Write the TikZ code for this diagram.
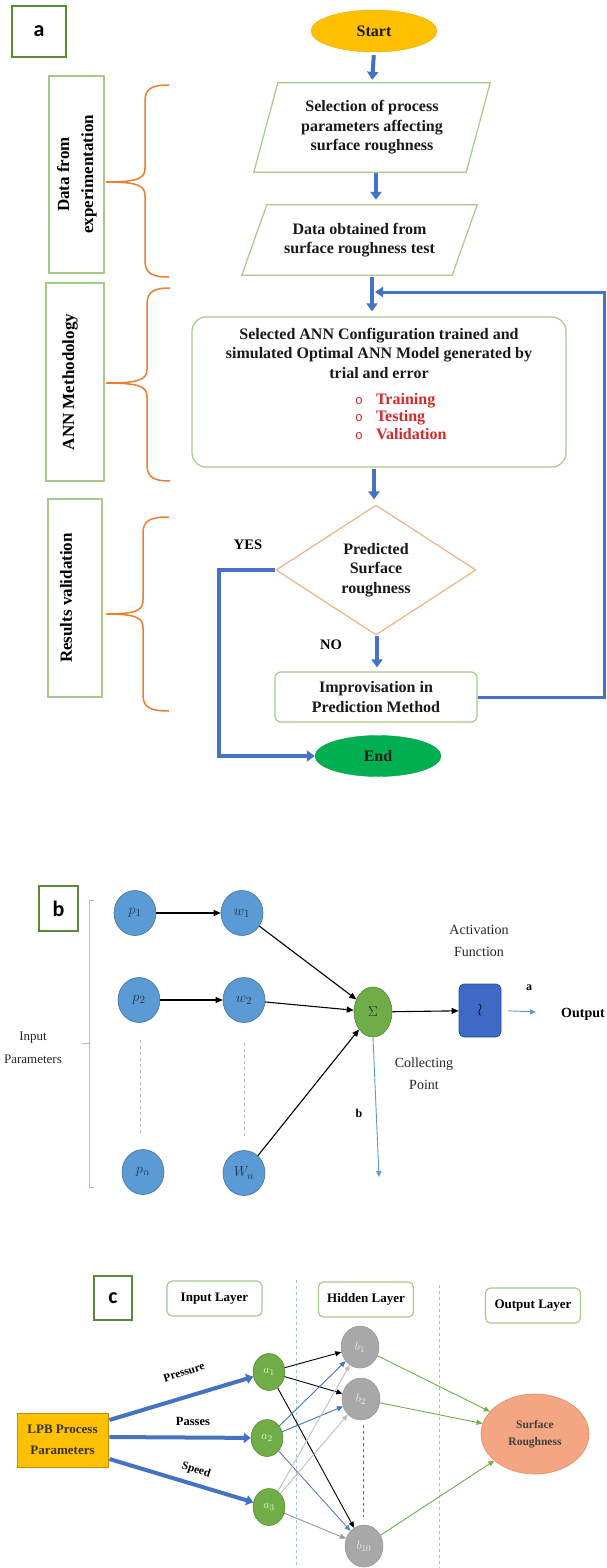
\documentclass[tikz,border=0pt]{standalone}
\usepackage{fontspec}
\setmainfont{Liberation Serif}
\newfontfamily\carl{Carlito}
\newfontfamily\monof{Liberation Mono}
\usetikzlibrary{shapes.geometric,arrows.meta,calc}
\definecolor{fblue}{HTML}{4472C4}
\definecolor{lgreen}{HTML}{A9C98B}
\definecolor{boxgreen}{HTML}{70AD47}
\definecolor{braceor}{HTML}{ED7D31}
\definecolor{diaor}{HTML}{F4B183}
\definecolor{startyel}{HTML}{FFC000}
\definecolor{endgreen}{HTML}{00B050}
\definecolor{redtxt}{HTML}{D42A2A}
\definecolor{cblue}{HTML}{5B9BD5}
\definecolor{cbluedark}{HTML}{41719C}
\definecolor{sgreen}{HTML}{70AD47}
\definecolor{sgreendark}{HTML}{548235}
\definecolor{actblue}{HTML}{3F69C6}
\definecolor{navytxt}{HTML}{26334D}
\definecolor{lblue}{HTML}{5B9BD5}
\definecolor{pblue}{HTML}{9DC3E6}
\definecolor{bgray}{HTML}{A8A8A8}
\definecolor{salmon}{HTML}{F4A582}
\definecolor{salmondark}{HTML}{E08A6A}
\definecolor{lpbborder}{HTML}{BF9000}
\definecolor{steel}{HTML}{5A7FBF}
\definecolor{lgray}{HTML}{C0C0C0}
\definecolor{mgray}{HTML}{9A9A9A}
\newcommand{\obrace}[5]{%
  \draw[bracestyle] (#1,#3) .. controls ({#2+8},#3) and (#2,{#3+3}) .. (#2,{#3+16})
    -- (#2,{#5-14}) .. controls (#2,{#5-4}) and ({#2-6},#5) .. (106,#5)
    .. controls ({#2-6},#5) and (#2,{#5+4}) .. (#2,{#5+14})
    -- (#2,{#4-16}) .. controls (#2,{#4-3}) and ({#2+8},#4) .. (#1,#4);}
\begin{document}
\begin{tikzpicture}[x=1pt,y=-1pt,
  flowarrow/.style={draw=fblue, line width=4pt, -{Triangle[width=11pt,length=8pt]}},
  labelbox/.style={draw=boxgreen!80!black, line width=1.6pt, fill=white, inner sep=0pt,
    font=\carl\bfseries\fontsize{22}{22}\selectfont},
  sidebox/.style={draw=lgreen, line width=1.2pt, inner sep=0pt},
  sidetext/.style={rotate=90, align=center, font=\bfseries\fontsize{17}{24}\selectfont},
  bracestyle/.style={draw=braceor, line width=1.5pt},
  ftext/.style={font=\bfseries\fontsize{16}{19.5}\selectfont, align=center, text=black!90},
  bcirc/.style={ellipse, fill=cblue, draw=cbluedark, line width=0.6pt, minimum width=42pt, minimum height=45pt, inner sep=0pt, text=navytxt, font=\fontsize{15}{15}\selectfont},
  barrow/.style={draw=black, line width=1.1pt, -{Triangle[width=6pt,length=7pt]}},
  rtext/.style={font=\fontsize{14}{22}\selectfont, align=center, text=black!85},
  layerbox/.style={draw=lgreen, line width=1.2pt, rounded corners=5pt, minimum width=95pt, minimum height=35pt, inner sep=0pt, font=\bfseries\fontsize{13}{13}\selectfont},
  acirc/.style={ellipse, fill=sgreen, draw=sgreendark, line width=0.5pt, minimum width=32pt, minimum height=37pt, inner sep=0pt, text=green!15!white, font=\fontsize{13}{13}\selectfont},
  hcirc/.style={ellipse, fill=bgray, draw=bgray!90!black, line width=0.5pt, minimum width=38pt, minimum height=42pt, inner sep=0pt, text=white!85!gray, font=\fontsize{13}{13}\selectfont},
  thickarrow/.style={draw=fblue, line width=4pt, -{Triangle[width=10pt,length=7pt]}},
  harrow/.style={line width=0.9pt, -{Triangle[width=5pt,length=6pt]}},
  garrow/.style={draw=boxgreen, line width=0.9pt, -{Triangle[width=5pt,length=6pt]}}
]
\useasboundingbox (0,0) rectangle (606,1568);
\fill[white] (0,0) rectangle (606,1568);

% ===================== (a) =====================
\node[labelbox, minimum width=54pt, minimum height=51pt] (la) at (39,31.5) {a};

\node[ellipse, fill=startyel, draw=startyel!90!black, minimum width=126pt, minimum height=42pt, inner sep=0pt, ftext] (start) at (374,31) {Start};

\node[minimum width=236pt, minimum height=89pt, inner sep=0pt, ftext] (p1) at (372,127.5)
  {Selection of process\\parameters affecting\\surface roughness};
\draw[draw=lgreen, line width=1.2pt] ($(p1.north west)+(24,0)$) -- (p1.north east) -- ($(p1.south east)+(-24,0)$) -- (p1.south west) -- cycle;

\node[minimum width=235pt, minimum height=70pt, inner sep=0pt, ftext] (p2) at (359.5,240)
  {Data obtained from\\surface roughness test};
\draw[draw=lgreen, line width=1.2pt] ($(p2.north west)+(25,0)$) -- (p2.north east) -- ($(p2.south east)+(-25,0)$) -- (p2.south west) -- cycle;

\node[draw=lgreen, line width=1.2pt, rounded corners=14pt, minimum width=374pt, minimum height=150pt, inner sep=0pt] (ann) at (379,392) {};
\node[ftext] (anntext) at (379,353) {Selected ANN Configuration trained and\\simulated Optimal ANN Model generated by\\trial and error};
\node[anchor=west, inner sep=0pt, font=\bfseries\fontsize{16}{18.5}\selectfont, text=redtxt] (bul) at (355,418)
  {\begin{tabular}{@{}l@{\hspace{13pt}}l@{}}{\mdseries\monof\fontsize{13}{13}\selectfont o} & Training\\[-1pt]{\mdseries\monof\fontsize{13}{13}\selectfont o} & Testing\\[-1pt]{\mdseries\monof\fontsize{13}{13}\selectfont o} & Validation\end{tabular}};

\node[diamond, draw=diaor, line width=1.2pt, minimum width=200pt, minimum height=130pt, inner sep=0pt, ftext] (dia) at (376,570)
  {Predicted\\Surface\\roughness};

\node[draw=lgreen, line width=1.2pt, rounded corners=6pt, minimum width=202pt, minimum height=50pt, inner sep=0pt, ftext] (imp) at (376,697)
  {Improvisation in\\Prediction Method};

\node[ellipse, fill=endgreen, draw=endgreen!90!black, minimum width=126pt, minimum height=41pt, inner sep=0pt, ftext] (end) at (378,756) {End};

\coordinate (j) at (372,292);
\coordinate (fr) at (604,292);

\draw[flowarrow, shorten <=3pt, shorten >=3pt] (start.south) -- (p1.north);
\draw[flowarrow, shorten <=1pt, shorten >=5pt] ($(p1.south)+(4,0)$) -- ($(p2.north)+(16.5,0)$);
\draw[flowarrow, shorten <=2pt, shorten >=5pt] (p2.south -| j) -- (ann.north -| j);
\draw[draw=fblue, line width=3pt, -{Triangle[width=10pt,length=8pt]}, shorten >=3pt] (imp.east) -| (fr) -- (j);
\draw[flowarrow, shorten <=1pt, shorten >=5pt] (ann.south -| 374,0) -- (dia.north -| 374,0);
\draw[flowarrow, shorten >=4pt] (dia.south) ++(1,0) -- ($(imp.north)+(1,0)$);
\draw[flowarrow] (dia.west) -- ++(-56,0) |- (end.west);

\node[font=\bfseries\fontsize{14.5}{14.5}\selectfont] (yes) at (248,545) {YES};
\node[font=\bfseries\fontsize{14.5}{14.5}\selectfont] (no) at (331,645) {NO};

% side boxes
\node[sidebox, minimum width=55pt, minimum height=197pt] (s1) at (76.5,174.5) {};
\node[sidetext] (s1t) at (77,174.5) {Data from\\experimentation};
\node[sidebox, minimum width=58pt, minimum height=198pt] (s2) at (75,382) {};
\node[sidetext] (s2t) at (70,382) {ANN Methodology};
\node[sidebox, minimum width=54pt, minimum height=198pt] (s3) at (75,598) {};
\node[sidetext] (s3t) at (66,598) {Results validation};

\obrace{169}{145}{85}{277}{182}
\obrace{170}{147}{288}{481}{383}
\obrace{169}{143}{517}{711}{614}

% ===================== (b) =====================
\node[labelbox, minimum width=39pt, minimum height=45pt] (lb) at (58.5,908.5) {b};

\draw[draw=pblue, line width=0.8pt] (94,900) -- (89,900) -- (89,1187) -- (94,1187);
\draw[draw=pblue, line width=0.8pt] (89,1043) -- (82,1043);
\node[rtext, font=\fontsize{13}{23}\selectfont] (inp) at (33,1048) {Input\\Parameters};

\node[bcirc] (bp1) at (135,913) {$p_1$};
\node[bcirc] (bw1) at (242,913) {$w_1$};
\node[bcirc] (bp2) at (139,1000) {$p_2$};
\node[bcirc] (bw2) at (244,1000) {$w_2$};
\node[bcirc] (bpn) at (143,1172) {$p_n$};
\node[bcirc] (bwn) at (244,1173) {$W_n$};

\draw[draw=gray!60, dashed, line width=0.7pt] (140,1040) -- (140,1133);
\draw[draw=gray!60, dashed, line width=0.7pt] (244,1043) -- (244,1137);

\node[ellipse, fill=sgreen, draw=sgreendark, line width=0.6pt, minimum width=38pt, minimum height=50pt, inner sep=0pt, text=navytxt, font=\fontsize{14}{14}\selectfont] (sig) at (373,1012) {$\Sigma$};
\node[rounded corners=5pt, fill=actblue, draw=fblue!70!black, line width=0.8pt, minimum width=42pt, minimum height=53pt, inner sep=0pt] (act) at (480,1010.5) {\fontsize{18}{18}\selectfont$\wr$};

\draw[barrow] (bp1) -- (bw1);
\draw[barrow] (bp2) -- (bw2);
\draw[barrow] (bw1) -- (sig);
\draw[barrow] (bw2) -- (sig);
\draw[barrow] (bwn) -- (sig);
\draw[barrow] (sig) -- (act);

\coordinate (outarr) at (536,1012);
\coordinate (bias) at (379,1177);
\draw[draw=lblue, line width=0.9pt, -{Triangle[width=5pt,length=6pt]}, shorten <=7pt] (act.east) -- (outarr);
\draw[draw=lblue, line width=0.9pt, -{Triangle[width=5pt,length=6pt]}] (sig.south) -- (bias);

\node[rtext] (actlab) at (479,941) {Activation\\Function};
\node[rtext] (collab) at (424,1074) {Collecting\\Point};
\node[font=\bfseries\fontsize{12}{12}\selectfont] (alab) at (529,988) {a};
\node[font=\bfseries\fontsize{14}{14}\selectfont, anchor=east, inner sep=1pt] (outlab) at (606,1014) {Output};
\node[font=\bfseries\fontsize{12}{12}\selectfont] (blab) at (359,1113) {b};

% ===================== (c) =====================
\node[labelbox, minimum width=38pt, minimum height=44pt] (lc) at (113,1298) {c};

\node[layerbox] (il) at (214.5,1298.5) {Input Layer};
\node[layerbox] (hl) at (366,1299.5) {Hidden Layer};
\node[layerbox] (ol) at (533,1305.5) {Output Layer};

\draw[draw=pblue, dashed, line width=0.7pt] (296,1280) -- (296,1568);
\draw[draw=pblue, dashed, line width=0.7pt] (439,1285) -- (439,1568);

\node[fill=startyel, draw=lpbborder, line width=0.8pt, minimum width=91pt, minimum height=54pt, inner sep=0pt, align=center, font=\bfseries\fontsize{13}{21}\selectfont, text=black!80] (lpb) at (62.5,1440) {LPB Process\\Parameters};

\node[acirc] (a1) at (269,1372) {$a_1$};
\node[acirc] (a2) at (267,1438) {$a_2$};
\node[acirc] (a3) at (269,1507) {$a_3$};

\node[hcirc] (b1) at (360,1347) {$b_1$};
\node[hcirc] (b2) at (361,1399) {$b_2$};
\node[hcirc] (b10) at (364,1546) {$b_{10}$};
\draw[draw=gray!80!black, dashed, line width=1pt] (363,1425) -- (363,1517);

\node[ellipse, fill=salmon, draw=salmondark, line width=0.6pt, minimum width=108pt, minimum height=80pt, inner sep=0pt, align=center, font=\bfseries\fontsize{11.5}{17}\selectfont, text=black!75] (sr) at (535,1434) {Surface\\Roughness};

\draw[thickarrow] ($(lpb.east)+(1,-20)$) -- (a1);
\draw[thickarrow] ($(lpb.east)+(1,-3)$) -- (a2);
\draw[thickarrow] ($(lpb.east)+(1,19)$) -- (a3);

\node[font=\bfseries\fontsize{11.5}{11.5}\selectfont, rotate=18] (lpress) at (184,1372) {Pressure};
\node[font=\bfseries\fontsize{12.5}{12.5}\selectfont] (lpass) at (193,1421) {Passes};
\node[font=\bfseries\fontsize{11.5}{11.5}\selectfont, rotate=-18] (lspeed) at (196,1470) {Speed};

\draw[harrow, draw=black] (a1) -- (b1);
\draw[harrow, draw=black] (a1) -- (b2);
\draw[harrow, draw=black] (a1) -- (b10);
\draw[harrow, draw=fblue] (a2) -- (b1);
\draw[harrow, draw=fblue] (a2) -- (b2);
\draw[harrow, draw=steel] (a2) -- (b10);
\draw[harrow, draw=lgray] (a3) -- (b1);
\draw[harrow, draw=lgray] (a3) -- (b2);
\draw[harrow, draw=mgray] (a3) -- (b10);

\draw[garrow] (b1) -- (sr);
\draw[garrow] (b2) -- (sr);
\draw[garrow] (b10) -- (sr);
\end{tikzpicture}
\end{document}
